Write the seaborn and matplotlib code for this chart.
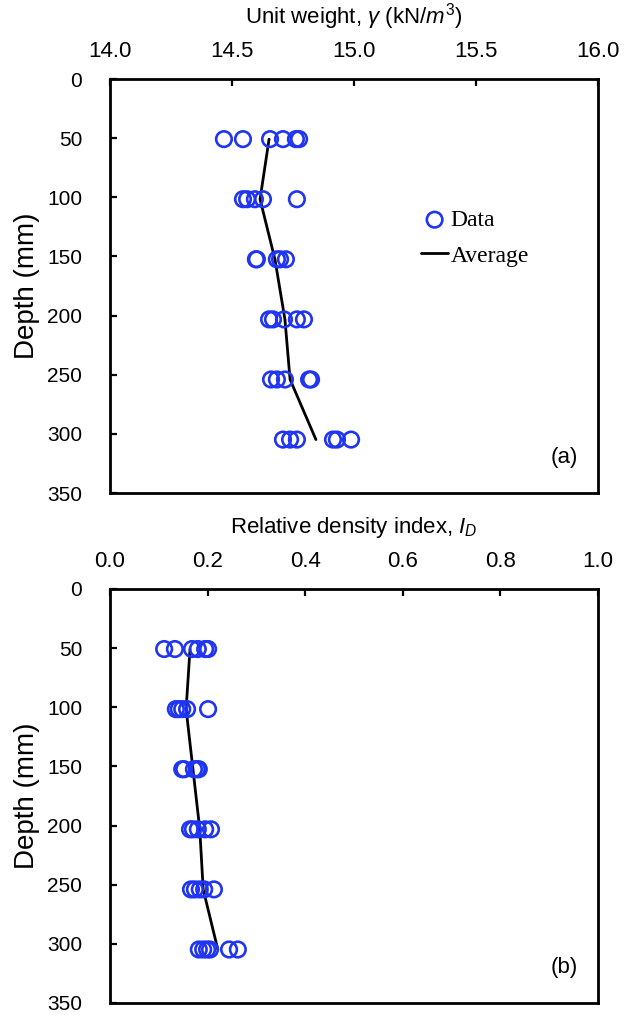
import matplotlib
matplotlib.use("Agg")
import matplotlib.pyplot as plt
import numpy as np
import pandas as pd
import seaborn as sns

sns.set_style("ticks")
plt.rcParams["font.family"] = ["Liberation Sans", "DejaVu Sans"]
plt.rcParams["mathtext.fontset"] = "custom"
plt.rcParams["mathtext.rm"] = "Liberation Sans"
plt.rcParams["mathtext.it"] = "Liberation Sans:italic"
for key in ["text.color", "axes.labelcolor", "xtick.color", "ytick.color", "axes.edgecolor"]:
    plt.rcParams[key] = "black"

# Sampling depths (2 in. intervals, in mm)
depths = [50.8, 101.6, 152.4, 203.2, 254.0, 304.8]

# Unit weight measurements (kN/m^3) at each depth
gamma_d50 = [14.467, 14.545, 14.656, 14.709, 14.762, 14.775]
gamma_d100 = [14.545, 14.562, 14.594, 14.627, 14.766]
gamma_d150 = [14.598, 14.602, 14.684, 14.697, 14.721]
gamma_d200 = [14.652, 14.668, 14.713, 14.766, 14.795]
gamma_d250 = [14.660, 14.684, 14.717, 14.816, 14.824]
gamma_d300 = [14.709, 14.738, 14.766, 14.914, 14.930, 14.988]
gamma_avg = [14.652, 14.615, 14.676, 14.717, 14.738, 14.844]

# Relative density index at each depth
id_d50 = [0.111, 0.133, 0.168, 0.180, 0.195, 0.201]
id_d100 = [0.135, 0.141, 0.148, 0.158, 0.201]
id_d150 = [0.148, 0.152, 0.172, 0.178, 0.182]
id_d200 = [0.164, 0.170, 0.180, 0.195, 0.207]
id_d250 = [0.166, 0.174, 0.184, 0.193, 0.213]
id_d300 = [0.182, 0.191, 0.199, 0.205, 0.244, 0.262]
id_avg = [0.164, 0.156, 0.170, 0.184, 0.191, 0.221]

gamma_ticks = [14.0, 14.5, 15.0, 15.5, 16.0]
id_ticks = [0.0, 0.2, 0.4, 0.6, 0.8, 1.0]
depth_ticks = [0, 50, 100, 150, 200, 250, 300, 350]


def long_form(rows):
    recs = []
    for d, vals in zip(depths, rows):
        for v in vals:
            recs.append({"value": v, "depth": d})
    return pd.DataFrame(recs)


gamma_df = long_form([gamma_d50, gamma_d100, gamma_d150, gamma_d200, gamma_d250, gamma_d300])
gamma_avg_df = pd.DataFrame({"value": gamma_avg, "depth": depths})
id_df = long_form([id_d50, id_d100, id_d150, id_d200, id_d250, id_d300])
id_avg_df = pd.DataFrame({"value": id_avg, "depth": depths})

BLUE = "#1f35f2"

fig = plt.figure(figsize=(6.31, 10.17), dpi=100)
ax1 = fig.add_axes([0.1743, 0.5152, 0.7734, 0.4071])
ax2 = fig.add_axes([0.1743, 0.0138, 0.7734, 0.4071])


def draw(ax, pts, avg, xlim, xticks, fmt, xlabel, tag, legend):
    sns.scatterplot(data=pts, x="value", y="depth", ax=ax, marker="o", s=125,
                    facecolors="none", edgecolor=BLUE, linewidth=1.9,
                    label="Data" if legend else None, zorder=3)
    sns.lineplot(data=avg, x="value", y="depth", ax=ax, sort=False, color="black",
                 linewidth=2.0, estimator=None,
                 label="Average" if legend else None, zorder=2)
    ax.set_xlim(*xlim)
    ax.set_ylim(350, 0)
    ax.set_xticks(xticks)
    ax.set_xticklabels([fmt.format(t) for t in xticks])
    ax.set_yticks(depth_ticks)
    ax.xaxis.tick_top()
    ax.xaxis.set_label_position("top")
    ax.tick_params(axis="x", direction="in", length=5, width=1.6, pad=12,
                   labelsize=16, top=True, bottom=False)
    ax.tick_params(axis="y", direction="in", length=5, width=1.6, pad=20,
                   labelsize=15, left=True, right=False)
    for sp in ax.spines.values():
        sp.set_visible(True)
        sp.set_linewidth(2.0)
        sp.set_color("black")
    ax.set_xlabel(xlabel, fontsize=16, labelpad=13)
    ax.set_ylabel("Depth (mm)", fontsize=20, labelpad=5)
    ax.text(0.93, 0.085, tag, transform=ax.transAxes, fontsize=16,
            ha="center", va="center")
    if legend:
        ax.legend(loc="upper left", bbox_to_anchor=(0.618, 0.708), frameon=False,
                  prop={"family": "Liberation Serif", "size": 17},
                  handlelength=1.15, handletextpad=0.1, labelspacing=0.6,
                  borderaxespad=0.0)
    elif ax.get_legend() is not None:
        ax.get_legend().remove()


draw(ax1, gamma_df, gamma_avg_df, (14.0, 16.0), gamma_ticks, "{:.1f}",
     r"Unit weight, $\gamma$ (kN/$m^3$)", "(a)", True)
draw(ax2, id_df, id_avg_df, (0.0, 1.0), id_ticks, "{:.1f}",
     r"Relative density index, $I_D$", "(b)", False)

fig.savefig("out.png", dpi=100, facecolor="white")
